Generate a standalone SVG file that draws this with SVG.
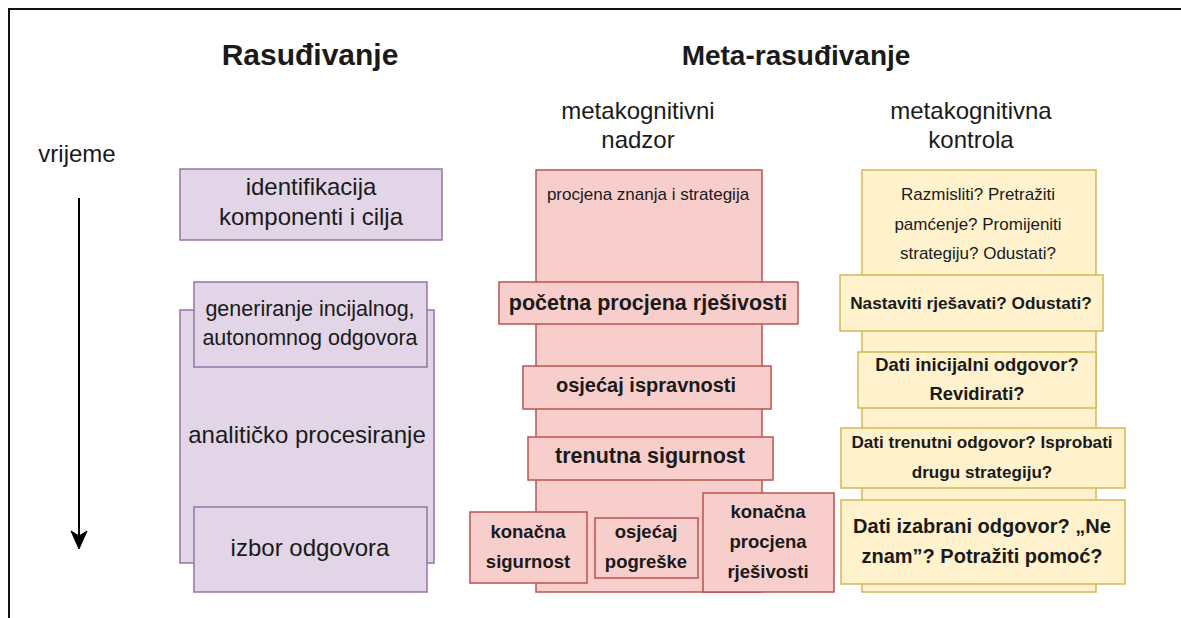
<svg xmlns="http://www.w3.org/2000/svg" width="1181" height="618" viewBox="0 0 1181 618">
<defs>
<style>
text{font-family:"Liberation Sans",Arial,Helvetica,sans-serif;fill:#1a1a1a;text-anchor:middle}
.b{font-weight:bold}
.pu{fill:#e1d5e7;stroke:#9673a6;stroke-width:1.5}
.re{fill:#f8cecc;stroke:#b85450;stroke-width:1.5}
.ye{fill:#fff2cc;stroke:#d6b656;stroke-width:1.5}
.t24{font-size:24px}
</style>
</defs>
<rect width="1181" height="618" fill="#ffffff"/>
<path d="M9,618 V9 H1181" fill="none" stroke="#111" stroke-width="2"/>

<g id="headers">
<text x="310" y="65" class="b" font-size="30">Rasuđivanje</text>
<text x="796" y="65" class="b" font-size="28">Meta-rasuđivanje</text>
<text x="638" y="119" class="t24">metakognitivni</text>
<text x="638" y="148" class="t24">nadzor</text>
<text x="971" y="119" class="t24">metakognitivna</text>
<text x="971" y="148" class="t24">kontrola</text>
<text x="77" y="162" class="t24">vrijeme</text>
</g>

<g id="connectors">
<line x1="79" y1="198" x2="79" y2="538" stroke="#000" stroke-width="2"/>
<path d="M79,549 L71,531 L79,536 L87,531 Z" fill="#000" stroke="#000" stroke-width="1"/>
</g>

<g id="analiticko">
<rect class="pu" x="180" y="310" width="254" height="253"/>
<text x="307" y="443" class="t24">analitičko procesiranje</text>
</g>
<g id="identifikacija">
<rect class="pu" x="180" y="169" width="262" height="71"/>
<text x="311" y="195" class="t24">identifikacija</text>
<text x="311" y="225" class="t24">komponenti i cilja</text>
</g>
<g id="generiranje">
<rect class="pu" x="194" y="282" width="233" height="85"/>
<text x="310" y="316" font-size="21.5">generiranje incijalnog,</text>
<text x="310" y="345" font-size="21.5">autonomnog odgovora</text>
</g>
<g id="izbor">
<rect class="pu" x="194" y="507" width="233" height="85"/>
<text x="310" y="556" class="t24">izbor odgovora</text>
</g>

<g id="nadzor">
<rect class="re" x="536" y="170" width="226" height="422"/>
<text x="648" y="200" font-size="17">procjena znanja i strategija</text>
</g>
<g id="pocetna">
<rect class="re" x="499" y="282" width="299" height="42"/>
<text x="648" y="310" class="b" font-size="21.5">početna procjena rješivosti</text>
</g>
<g id="ispravnost">
<rect class="re" x="523" y="366" width="248" height="43"/>
<text x="646" y="392" class="b" font-size="20">osjećaj ispravnosti</text>
</g>
<g id="trenutna">
<rect class="re" x="528" y="437" width="245" height="43"/>
<text x="650" y="463" class="b" font-size="21.5">trenutna sigurnost</text>
</g>
<g id="konacna-sigurnost">
<rect class="re" x="470" y="512" width="117" height="71"/>
<text x="528" y="538" class="b" font-size="18.5">konačna</text>
<text x="528" y="568" class="b" font-size="18.5">sigurnost</text>
</g>
<g id="pogreska">
<rect class="re" x="595" y="518" width="103" height="60"/>
<text x="646" y="538" class="b" font-size="18.5">osjećaj</text>
<text x="646" y="568" class="b" font-size="18.5">pogreške</text>
</g>
<g id="konacna-procjena">
<rect class="re" x="703" y="493" width="131" height="99"/>
<text x="768" y="518" class="b" font-size="18.5">konačna</text>
<text x="768" y="548" class="b" font-size="18.5">procjena</text>
<text x="768" y="578" class="b" font-size="18.5">rješivosti</text>
</g>

<g id="kontrola">
<rect class="ye" x="862" y="170" width="234" height="422"/>
<text x="978" y="200" font-size="17">Razmisliti? Pretražiti</text>
<text x="978" y="230" font-size="17">pamćenje? Promijeniti</text>
<text x="978" y="259" font-size="17">strategiju? Odustati?</text>
</g>
<g id="nastaviti">
<rect class="ye" x="840" y="275" width="263" height="56"/>
<text x="971" y="309" class="b" font-size="17.2">Nastaviti rješavati? Odustati?</text>
</g>
<g id="inicijalni">
<rect class="ye" x="858" y="352" width="238" height="56"/>
<text x="977" y="371" class="b" font-size="18.4">Dati inicijalni odgovor?</text>
<text x="977" y="400" class="b" font-size="18.4">Revidirati?</text>
</g>
<g id="trenutni">
<rect class="ye" x="841" y="428" width="284" height="60"/>
<text x="982" y="448" class="b" font-size="17.1">Dati trenutni odgovor? Isprobati</text>
<text x="982" y="478" class="b" font-size="17.1">drugu strategiju?</text>
</g>
<g id="izabrani">
<rect class="ye" x="841" y="500" width="284" height="84"/>
<text x="982" y="533" class="b" font-size="20">Dati izabrani odgovor? „Ne</text>
<text x="982" y="563" class="b" font-size="20">znam”? Potražiti pomoć?</text>
</g>
</svg>
